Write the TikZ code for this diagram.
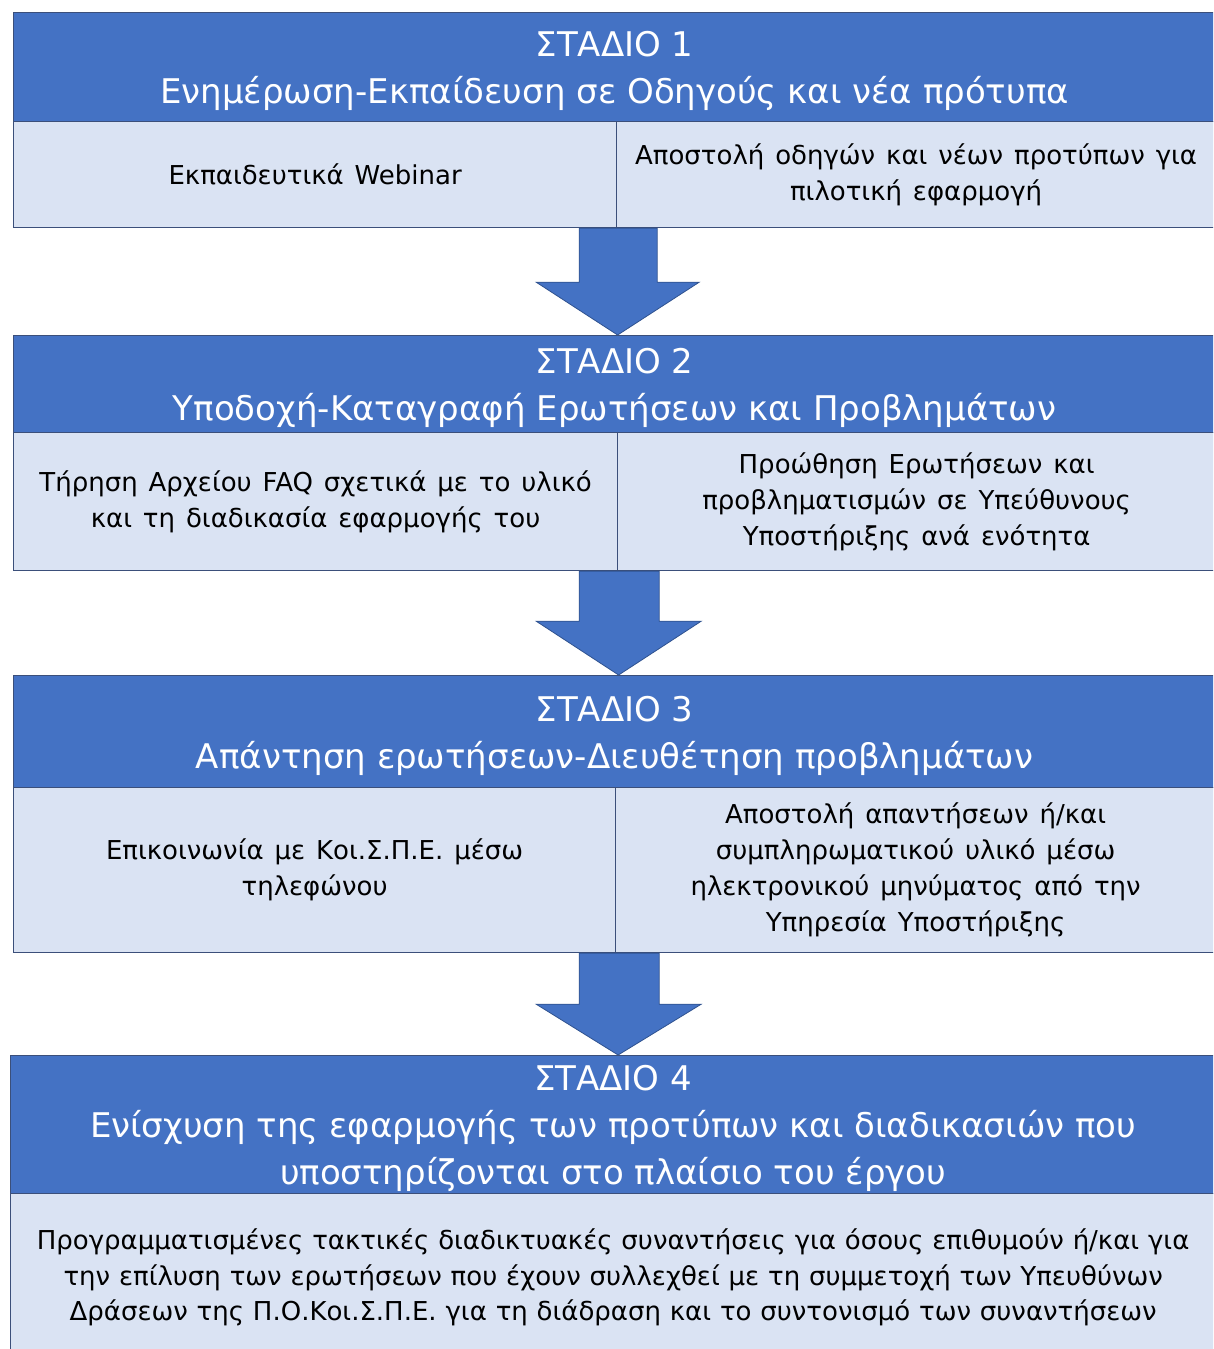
\documentclass[tikz,border=0pt]{standalone}
\usepackage{fontspec}
\setmainfont{DejaVu Sans}
\usetikzlibrary{calc}
\definecolor{hdrblue}{HTML}{4472C4}
\definecolor{subfill}{HTML}{DAE3F3}
\definecolor{edgecol}{HTML}{3B4F7A}
\definecolor{arrowedge}{HTML}{2F528F}
\newcommand\hdrfont{\fontsize{34}{47}\selectfont}
\newcommand\subfont{\fontsize{26}{36}\selectfont\spaceskip 0.42em plus 0.1em\relax}
\newcommand\subfontwide{\fontsize{26}{35.5}\selectfont\spaceskip 0.34em plus 0.1em\relax}
\newcommand\hdrstrut{\rule{0pt}{33pt}}
\tikzset{
  hdr/.style={draw=edgecol, line width=1.2pt, fill=hdrblue, text=white, anchor=north west, inner sep=0pt, align=center, font=\hdrfont},
  sub/.style={draw=edgecol, line width=1.2pt, fill=subfill, text=black, anchor=north west, inner sep=0pt, align=center, font=\subfont},
  blockarrow/.style={fill=hdrblue, draw=arrowedge, line width=0.8pt, line join=miter}
}
\begin{document}
\begin{tikzpicture}[x=1pt,y=-1pt]
\useasboundingbox (0,0) rectangle (1213,1349);
\clip (0,0) rectangle (1213,1349);
% Stage 1
\node[hdr, minimum width=1202, minimum height=109] (h1) at (13,12) {\hdrstrut ΣΤΑΔΙΟ 1\\Ενημέρωση-Εκπαίδευση σε Οδηγούς και νέα πρότυπα};
\node[sub, minimum width=603, minimum height=106] (l1) at (13,121) {Εκπαιδευτικά Webinar};
\node[sub, minimum width=599, minimum height=106] (r1) at (616,121) {Αποστολή οδηγών και νέων προτύπων για\\πιλοτική εφαρμογή};
% Stage 2
\node[hdr, minimum width=1202, minimum height=97] (h2) at (13,335) {\hdrstrut ΣΤΑΔΙΟ 2\\Υποδοχή-Καταγραφή Ερωτήσεων και Προβλημάτων};
\node[sub, minimum width=604, minimum height=138] (l2) at (13,432) {Τήρηση Αρχείου FAQ σχετικά με το υλικό\\και τη διαδικασία εφαρμογής του};
\node[sub, minimum width=598, minimum height=138] (r2) at (617,432) {Προώθηση Ερωτήσεων και\\προβληματισμών σε Υπεύθυνους\\Υποστήριξης ανά ενότητα};
% Stage 3
\node[hdr, minimum width=1202, minimum height=112] (h3) at (13,675) {\hdrstrut ΣΤΑΔΙΟ 3\\Απάντηση ερωτήσεων-Διευθέτηση προβλημάτων};
\node[sub, minimum width=602, minimum height=165] (l3) at (13,787) {Επικοινωνία με Κοι.Σ.Π.Ε. μέσω\\τηλεφώνου};
\node[sub, minimum width=600, minimum height=165] (r3) at (615,787) {Αποστολή απαντήσεων ή/και\\συμπληρωματικού υλικό μέσω\\ηλεκτρονικού μηνύματος από την\\Υπηρεσία Υποστήριξης};
% Stage 4
\node[hdr, minimum width=1205, minimum height=138] (h4) at (10,1055) {\hdrstrut ΣΤΑΔΙΟ 4\\Ενίσχυση της εφαρμογής των προτύπων και διαδικασιών που\\υποστηρίζονται στο πλαίσιο του έργου};
\node[sub, font=\subfontwide, minimum width=1205, minimum height=168] (l4) at (10,1193) {Προγραμματισμένες τακτικές διαδικτυακές συναντήσεις για όσους επιθυμούν ή/και για\\την επίλυση των ερωτήσεων που έχουν συλλεχθεί με τη συμμετοχή των Υπευθύνων\\Δράσεων της Π.Ο.Κοι.Σ.Π.Ε. για τη διάδραση και το συντονισμό των συναντήσεων};
% Arrows (block arrows from each sub row to the next header)
\draw[blockarrow] ($(l1.south east)+(-38,0)$) -- ($(l1.south east)+(40,0)$) -- ($(l1.south east)+(40,54)$) -- ($(l1.south east)+(82,54)$) -- ($(h2.north)+(3,0)$) -- ($(l1.south east)+(-81,54)$) -- ($(l1.south east)+(-38,54)$) -- cycle;
\draw[blockarrow] ($(l2.south east)+(-39,0)$) -- ($(l2.south east)+(41,0)$) -- ($(l2.south east)+(41,50)$) -- ($(l2.south east)+(83,50)$) -- ($(h3.north)+(4,0)$) -- ($(l2.south east)+(-82,50)$) -- ($(l2.south east)+(-39,50)$) -- cycle;
\draw[blockarrow] ($(l3.south east)+(-37,0)$) -- ($(l3.south east)+(43,0)$) -- ($(l3.south east)+(43,51)$) -- ($(l3.south east)+(85,51)$) -- ($(h4.north)+(5,0)$) -- ($(l3.south east)+(-80,51)$) -- ($(l3.south east)+(-37,51)$) -- cycle;
\end{tikzpicture}
\end{document}
